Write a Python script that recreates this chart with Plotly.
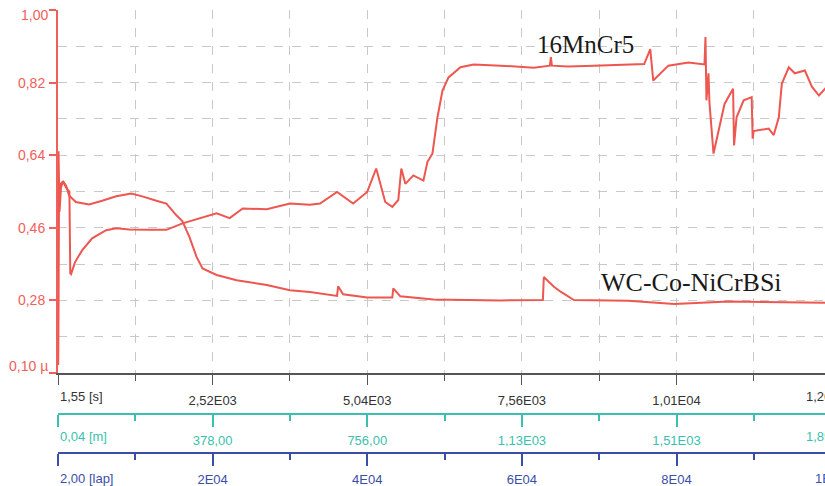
import plotly.graph_objects as go

# ---- data (time in s, friction coefficient mu) ----
t_mn = [2, 8, 25, 49, 82, 131, 180, 186, 200, 213, 278, 393, 556, 785, 949, 1162, 1489, 1767,
        2029, 2307, 2585, 2798, 3010, 3403, 3779, 4106, 4270, 4548, 4810, 5039, 5186, 5333,
        5448, 5546, 5595, 5661, 5791, 5955, 6020, 6102, 6184, 6266, 6364, 6560, 6773, 7215,
        7755, 8016, 8033, 8049, 8311, 8736, 9554, 9652, 9701, 9947, 10274, 10536, 10552,
        10568, 10601, 10617, 10683, 10765, 10863, 11002, 11018, 11059, 11174, 11305, 11321,
        11337, 11583, 11665, 11747, 11796, 11910, 12008, 12172, 12286, 12401, 12532]
mu_mn = [0.12, 0.65, 0.50, 0.56, 0.575, 0.56, 0.55, 0.55, 0.347, 0.345, 0.375, 0.404, 0.434,
         0.454, 0.459, 0.456, 0.455, 0.455, 0.471, 0.484, 0.496, 0.484, 0.508, 0.506, 0.52,
         0.517, 0.52, 0.549, 0.52, 0.549, 0.607, 0.524, 0.512, 0.529, 0.607, 0.569, 0.59,
         0.577, 0.623, 0.644, 0.734, 0.80, 0.833, 0.858, 0.865, 0.862, 0.857, 0.862, 0.883,
         0.862, 0.86, 0.862, 0.866, 0.903, 0.825, 0.862, 0.870, 0.865, 0.933, 0.776, 0.843,
         0.77, 0.644, 0.70, 0.767, 0.805, 0.664, 0.734, 0.776, 0.784, 0.681, 0.70, 0.706,
         0.69, 0.734, 0.817, 0.858, 0.843, 0.85, 0.81, 0.788, 0.81]

t_wc = [2, 16, 49, 82, 131, 180, 290, 507, 720, 949, 1194, 1374, 1603, 1767, 1930, 2029, 2143,
        2258, 2356, 2585, 2912, 3403, 3779, 4106, 4548, 4565, 4646, 5039, 5448, 5464, 5579,
        6118, 6675, 7215, 7902, 7918, 8082, 8197, 8409, 9293, 10045, 10928, 12532]
mu_wc = [0.12, 0.55, 0.57, 0.575, 0.565, 0.54, 0.524, 0.518, 0.527, 0.538, 0.545, 0.538,
         0.527, 0.52, 0.491, 0.476, 0.437, 0.388, 0.359, 0.343, 0.330, 0.318, 0.305, 0.301,
         0.291, 0.315, 0.295, 0.287, 0.287, 0.31, 0.29, 0.282, 0.281, 0.280, 0.281, 0.338,
         0.314, 0.301, 0.281, 0.279, 0.271, 0.277, 0.274]

series_names = ["16MnCr5", "WC-Co-NiCrBSi"]

time_ticks = [0, 2520, 5040, 7560, 10080]
time_labels = ["", "2,52E03", "5,04E03", "7,56E03", "1,01E04"]
dist_labels = ["", "378,00", "756,00", "1,13E03", "1,51E03"]
lap_labels = ["", "2E04", "4E04", "6E04", "8E04"]
first_labels = ["1,55 [s]", "0,04 [m]", "2,00 [lap]"]
last_labels = ["1,26E04", "1,89E03", "1E05"]

mu_ticks = [0.10, 0.28, 0.46, 0.64, 0.82, 1.00]
mu_labels = ["", "0,28", "0,46", "0,64", "0,82", ""]
mu_end_labels = ["0,10 µ", "1,00"]

# ---- style ----
RED = "#f0605a"
LINE = "#ee5650"
GRID = "#c9c9c9"
DARK = "#333333"
TEAL = "#3cbfae"
BLUE = "#3a4ea6"
FONT = "Liberation Sans, Arial, sans-serif"
X_RANGE = [0, 12500]
TICK_SIZE = 13

fig = go.Figure()
fig.add_trace(go.Scatter(x=t_mn, y=mu_mn, mode="lines", name=series_names[0],
                         line=dict(color=LINE, width=2), showlegend=False))
fig.add_trace(go.Scatter(x=t_wc, y=mu_wc, mode="lines", name=series_names[1],
                         line=dict(color=LINE, width=2), showlegend=False))
# bind the distance and lap axes to the data so that they are drawn (no visible marks)
for ax in ["x2", "x3"]:
    fig.add_trace(go.Scatter(x=t_wc, y=mu_wc, xaxis=ax, yaxis="y", mode="none",
                             showlegend=False, hoverinfo="skip"))

def lower_axis(color, labels, position):
    return dict(
        overlaying="x", anchor="free", position=position, side="bottom", automargin=False,
        range=X_RANGE, tickmode="array", tickvals=time_ticks, ticktext=labels,
        showline=True, linecolor=color, linewidth=2, ticks="outside", ticklen=12,
        tickcolor=color, tickwidth=1.5, tickfont=dict(family=FONT, size=TICK_SIZE, color=color),
        ticklabelstandoff=2, showgrid=False, zeroline=False,
        minor=dict(tickmode="linear", tick0=1260, dtick=2520, ticks="outside",
                   ticklen=6, tickcolor=color, showgrid=False),
    )

fig.update_layout(
    width=825, height=486,
    margin=dict(l=58, r=0, t=10, b=0, autoexpand=False),
    paper_bgcolor="white", plot_bgcolor="white",
    font=dict(family=FONT),
    xaxis=dict(
        domain=[0, 1], range=X_RANGE, anchor="y", side="bottom", automargin=False,
        tickmode="array", tickvals=time_ticks, ticktext=time_labels,
        showline=True, linecolor="#555555", linewidth=1.5, ticks="outside", ticklen=10,
        tickcolor="#555555", tickfont=dict(family=FONT, size=TICK_SIZE, color=DARK),
        ticklabelstandoff=5,
        showgrid=True, gridcolor=GRID, griddash="dash", gridwidth=1, zeroline=False,
        minor=dict(tickmode="linear", tick0=1260, dtick=2520, ticks="outside", ticklen=6,
                   tickcolor="#555555", showgrid=True, gridcolor=GRID, griddash="dash"),
    ),
    xaxis2=lower_axis(TEAL, dist_labels, 0.1513),
    xaxis3=lower_axis(BLUE, lap_labels, 0.0693),
    yaxis=dict(
        domain=[0.2374, 1], range=[0.10, 1.00], anchor="x", automargin=False,
        tickmode="array", tickvals=mu_ticks, ticktext=mu_labels,
        showline=True, linecolor=RED, linewidth=2, ticks="outside", ticklen=7,
        tickcolor=RED, tickwidth=1.5, tickfont=dict(family=FONT, size=14, color=RED),
        ticklabelstandoff=1,
        showgrid=True, gridcolor=GRID, griddash="dash", gridwidth=1, zeroline=False,
        minor=dict(tickmode="linear", tick0=0.19, dtick=0.18, ticks="", showgrid=True,
                   gridcolor=GRID, griddash="dash"),
    ),
)

annotations = []
# first (left-aligned) and last (clipped at the window edge) lower-axis labels
label_y = [0.187, 0.103, 0.0168]
label_colors = [DARK, TEAL, BLUE]
for txt, yy, col in zip(first_labels, label_y, label_colors):
    annotations.append(dict(xref="paper", yref="paper", x=0, y=yy, xanchor="left",
                            yanchor="middle", text=txt, showarrow=False,
                            font=dict(family=FONT, size=TICK_SIZE, color=col)))
for txt, yy, col in zip(last_labels, label_y, label_colors):
    annotations.append(dict(xref="paper", yref="paper", x=1.0065, y=yy, xanchor="center",
                            yanchor="middle", text=txt, showarrow=False,
                            font=dict(family=FONT, size=TICK_SIZE, color=col)))
# extreme mu labels, nudged inward as in the source software
for txt, yy in zip(mu_end_labels, [0.2521, 0.9895]):
    annotations.append(dict(xref="paper", yref="paper", x=0, y=yy, xanchor="right",
                            yanchor="middle", xshift=-8, text=txt, showarrow=False,
                            font=dict(family=FONT, size=14, color=RED)))
# series names
annotations.append(dict(xref="x", yref="y", x=8600, y=0.915, text=series_names[0],
                        showarrow=False, font=dict(family="Liberation Serif, Times New Roman, serif",
                                                   size=25, color="#1a1a1a")))
annotations.append(dict(xref="x", yref="y", x=10320, y=0.325, text=series_names[1],
                        showarrow=False, font=dict(family="Liberation Serif, Times New Roman, serif",
                                                   size=26, color="#1a1a1a")))
fig.update_layout(annotations=annotations)

fig.write_html("out.html")
